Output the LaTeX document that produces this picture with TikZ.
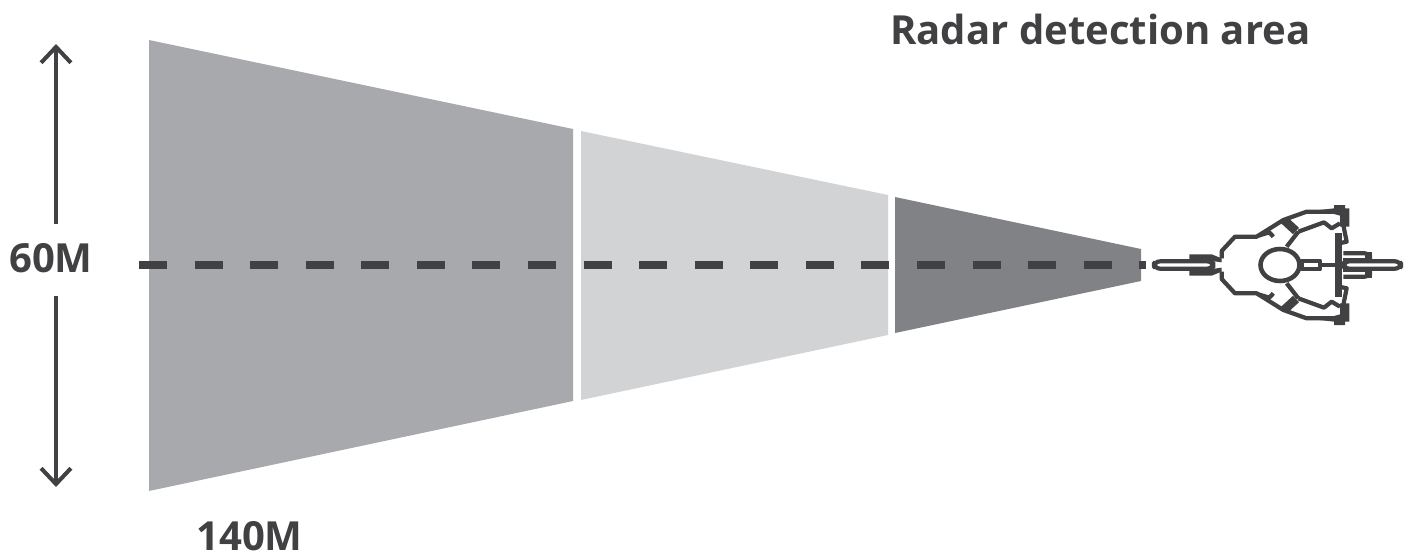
\documentclass[tikz,border=0pt]{standalone}
\usepackage{fontspec}
\setmainfont{Open Sans}
\usetikzlibrary{arrows.meta,shapes.geometric}
\definecolor{inkdark}{HTML}{414042}
\definecolor{zonefar}{HTML}{A7A9AC}
\definecolor{zonemid}{HTML}{D1D3D4}
\definecolor{zonenear}{HTML}{808285}
\tikzset{
  bigtext/.style={font=\fontsize{22.8}{23}\selectfont\bfseries,text=inkdark,inner sep=0pt},
  sizearrow/.style={line width=2.3pt,draw=inkdark,-{Straight Barb[length=9pt,width=17pt,line width=2.3pt]}},
  bikeline/.style={line width=2.4pt,draw=inkdark,line join=round}
}
\begin{document}
\begin{tikzpicture}[x=0.02cm,y=-0.02cm]
	\useasboundingbox (0,0) rectangle (1411,551);
	% detection zones
	\fill[zonefar](149,40)--(573,129)--(573,401)--(149,491)--cycle;
	\fill[zonemid](581,131)--(888,195)--(888,335)--(581,400)--cycle;
	\fill[zonenear](895,197)--(1141,249)--(1141,281)--(895,333)--cycle;
	% axis
	\coordinate (axisstart) at (139,265);
	\coordinate (axisend) at (1146,265);
	\draw[inkdark,line width=4.6pt,dash pattern=on 15.93pt off 15.7pt] (axisstart)--(axisend);
	% dimensions
	\node[bigtext,anchor=center] (widthlabel) at (51,258) {60M};
	\node[bigtext,anchor=base west] (lengthlabel) at (196,550) {140M};
	\node[bigtext,anchor=base west] (title) at (890,45) {Radar detection area};
	\coordinate (widthtop) at (56,44);
	\coordinate (widthtopstart) at (56,224);
	\coordinate (widthbottom) at (56,487);
	\coordinate (widthbottomstart) at (56,296);
	\draw[sizearrow] (widthtopstart)--(widthtop);
	\draw[sizearrow] (widthbottomstart)--(widthbottom);
	% rider seen from above
	\begin{scope}[shift={(1130,265)},xscale=1/3,yscale=1/3]
		\foreach \s in {1,-1}{
			\begin{scope}[yscale=\s]
				\draw[bikeline] (275,-20)--(275,-42)--(315,-85)--(380,-85)--(460,-135)--(530,-160)--(630,-160);
				\draw[bikeline] (385,-88)--(418,-98)--(430,-85);
				\draw[bikeline] (505,-100)--(470,-55);
				\draw[bikeline] (505,-100)--(582,-128)--(605,-110)--(630,-125);
				\draw[inkdark,line width=5pt] (462,-135)--(498,-102);
				\fill[inkdark] (570,-165)--(612,-170)--(612,-180)--(645,-180)--(645,-170)--(658,-170)--(658,-115)--(630,-115)--(630,-148)--cycle;
				\draw[bikeline] (640,-120)--(650,-70)--(628,-65);
				\fill[inkdark] (178,-32)--(245,-32)--(275,-20)--(275,-8)--(245,-12)--(178,-12)--cycle;
				\draw[bikeline] (640,-35)--(705,-35)--(720,-30)--(720,-12);
				\fill[inkdark] (705,-40)--(725,-40)--(725,-12)--(705,-12)--cycle;
				\fill[white] (640,-26) rectangle (706,-16);
				\draw[bikeline] (640,-14)--(706,-14);
			\end{scope}
		}
		\draw[line width=3.8pt,draw=inkdark] (625,-95)--(625,95);
		\draw[bikeline,rounded corners=3.4pt,fill=white] (72,-11) rectangle (250,11);
		\draw[bikeline,rounded corners=3.4pt,fill=white] (640,-11) rectangle (813,11);
		\draw[inkdark,line width=2.6pt] (570,0)--(640,0);
		\draw[bikeline] (515,-13) rectangle (570,13);
		\node[draw=inkdark,line width=2.6pt,fill=white,ellipse,inner sep=0pt,minimum width=0.78cm,minimum height=0.64cm] (head) at (450,0) {};
	\end{scope}
\end{tikzpicture}
\end{document}
